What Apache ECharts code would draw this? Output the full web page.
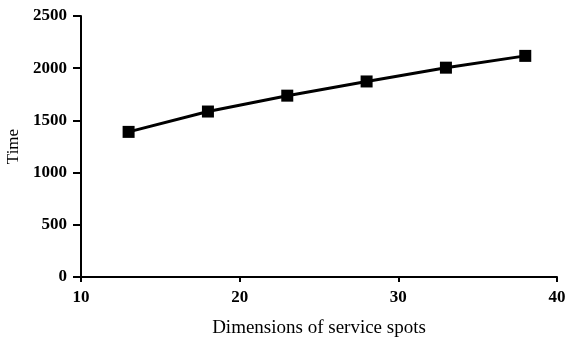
<!DOCTYPE html>
<html><head><meta charset="utf-8">
<script src="https://cdn.jsdelivr.net/npm/echarts@6/dist/echarts.min.js"></script>
<style>html,body{margin:0;padding:0;background:#fff}#c{width:584px;height:337px}</style>
</head><body><div id="c"></div>
<script>
const xValues = [13, 18, 23, 28, 33, 38];
const timeValues = [1390, 1585, 1737, 1873, 2005, 2118];
const xTitle = 'Dimensions of service spots';
const yTitle = 'Time';

const font = 'Liberation Serif, Times New Roman, serif';
const chart = echarts.init(document.getElementById('c'), null, {renderer: 'canvas'});
chart.setOption({
  animation: false,
  backgroundColor: '#fff',
  grid: {left: 81, right: 27, top: 16, bottom: 60, containLabel: false, outerBoundsMode: 'none'},
  xAxis: {
    type: 'value', min: 10, max: 40, interval: 10,
    name: xTitle, nameLocation: 'middle', nameGap: 42,
    nameTextStyle: {fontFamily: font, fontSize: 19, color: '#000'},
    axisLine: {lineStyle: {color: '#000', width: 2}},
    axisTick: {show: true, length: 5, lineStyle: {color: '#000', width: 2}},
    axisLabel: {fontFamily: font, fontSize: 17, fontWeight: 'bold', color: '#000', margin: 12,
      formatter: v => String(v)},
    splitLine: {show: false}
  },
  yAxis: {
    type: 'value', min: 0, max: 2500, interval: 500,
    name: yTitle, nameLocation: 'middle', nameGap: 57, nameRotate: 90,
    nameTextStyle: {fontFamily: font, fontSize: 17, color: '#000'},
    axisLine: {show: true, lineStyle: {color: '#000', width: 2}},
    axisTick: {show: true, length: 8, lineStyle: {color: '#000', width: 2}},
    axisLabel: {fontFamily: font, fontSize: 17, fontWeight: 'bold', color: '#000', margin: 14,
      formatter: v => String(v)},
    splitLine: {show: false}
  },
  series: [{
    type: 'line',
    data: xValues.map((x, i) => [x, timeValues[i]]),
    symbol: 'rect', symbolSize: 12,
    lineStyle: {color: '#000', width: 3},
    itemStyle: {color: '#000'}
  }]
});
</script></body></html>
